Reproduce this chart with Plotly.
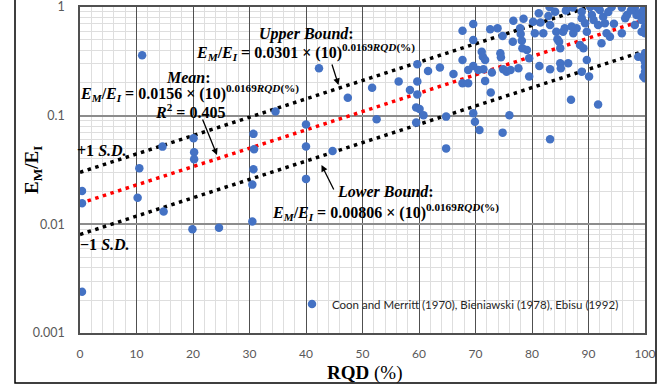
import plotly.graph_objects as go

# ---------------- data ----------------
rqd = [0.35, 0.35, 0.35, 10.5, 10.2, 11.0, 14.6, 14.8, 20.1, 20.2, 20.2, 19.9, 24.6,
       30.7, 30.8, 30.7, 30.5, 30.5, 34.6, 40.0, 40.0, 40.0, 42.3, 44.7, 47.4,
       51.7, 52.5, 56.4, 58.4, 59.7, 59.7, 59.7, 59.5, 60.1, 60.8, 59.5,
       61.6, 63.7, 64.8, 64.8, 66.1, 67.7, 67.7, 67.7, 68.7, 68.7,
       69.6, 69.6, 69.6, 69.6, 69.9, 70.7, 70.5, 71.1, 71.3, 71.7, 71.4, 71.7,
       72.6, 73.9, 72.7, 72.9, 74.4, 74.5, 74.9, 74.8, 75.5, 74.8, 76.0,
       76.7, 76.6, 77.9, 78.0, 78.2, 78.3, 79.1, 79.5, 79.5, 77.6, 76.2,
       80.2, 81.2, 80.5, 82.0, 83.1, 82.9, 84.1, 83.2, 84.3, 84.5, 84.8, 85.0,
       81.3, 83.2, 85.0, 85.1, 86.4, 86.9, 83.2,
       85.5, 85.8, 87.2, 87.3, 87.9, 88.8, 88.8, 88.5, 89.1, 88.8, 89.7, 90.1,
       89.4, 89.7, 90.3, 90.6, 90.9, 91.5, 91.7, 92.0, 92.6, 92.9, 92.3, 91.7,
       93.2, 93.8, 94.1, 95.9, 95.9, 96.5, 96.8, 98.2, 98.2, 98.5, 99.1, 99.4, 99.7,
       100, 100, 100, 99.4, 100, 100, 99.7, 100, 100, 100, 99.7, 100, 98.8,
       78.5, 86.0, 93.5, 97.5, 81.5, 87.0, 94.5]
em_ei = [0.0203, 0.0156, 0.0024, 0.0328, 0.0176, 0.36, 0.0519, 0.0131, 0.062, 0.046, 0.0397, 0.009, 0.0093,
         0.068, 0.049, 0.0321, 0.0232, 0.0106, 0.109, 0.083, 0.052, 0.0262, 0.273, 0.0473, 0.146,
         0.181, 0.0927, 0.206, 0.172, 0.297, 0.206, 0.157, 0.119, 0.115, 0.101, 0.0863,
         0.258, 0.277, 0.098, 0.05, 0.242, 0.605, 0.325, 0.199, 0.199, 0.263,
         0.698, 0.497, 0.286, 0.105, 0.088, 0.0739, 0.263, 0.388, 0.349, 0.325, 0.267, 0.209,
         0.624, 0.637, 0.163, 0.249, 0.375, 0.344, 0.267, 0.0698, 0.254, 0.541, 0.101,
         0.748, 0.48, 0.637, 0.565, 0.49, 0.417, 0.402, 0.337, 0.229, 0.273, 0.263,
         0.733, 0.875, 0.573, 0.573, 1.0, 0.826, 0.905, 0.683, 0.593, 0.505, 0.48, 0.417,
         0.286, 0.267, 0.303, 0.273, 0.303, 0.14, 0.0607,
         0.593, 0.637, 0.99, 0.573, 0.637, 0.787, 0.905, 0.447, 0.417, 0.254, 0.325, 0.229,
         0.708, 0.593, 1.0, 0.844, 0.76, 1.0, 0.683, 0.938, 0.814, 0.708, 0.464, 0.127,
         0.573, 0.533, 1.0, 0.99, 0.573, 0.787, 0.844, 0.99, 0.683, 0.844, 0.875, 0.76, 0.938,
         1.0, 0.844, 0.659, 0.593, 0.573, 0.375, 0.337, 0.314, 0.282, 0.254, 0.229, 0.221, 0.349,
         0.78, 0.93, 0.9, 0.93, 0.72, 0.66, 0.7]

# trend-line coefficients (as printed on the chart): E_M/E_I = a * 10^(b*RQD)
b_exp = 0.0169
a_mean = 0.0156
a_upper = 0.0301
a_lower = 0.00806
line_x = [0, 100]

x_ticks = [0, 10, 20, 30, 40, 50, 60, 70, 80, 90, 100]
y_ticks = [0.001, 0.01, 0.1, 1]
y_ticklabels = ["0.001", "0.01", "0.1", "1"]

legend_label = "Coon and Merritt (1970), Bieniawski (1978), Ebisu (1992)"

# ---------------- figure ----------------
W, H = 664, 387
ML, MR, MT, MB = 80, 19, 7, 54
PW, PH = W - ML - MR, H - MT - MB


def px(xp):
    return (xp - ML) / PW


def py(yp):
    return (H - MB - yp) / PH


def trend(a):
    return [a * 10 ** (b_exp * v) for v in line_x]


fig = go.Figure()

dot = "3.5px,4.5px"
fig.add_trace(go.Scatter(x=line_x, y=trend(a_upper), mode="lines", showlegend=False,
                         line=dict(color="black", width=3.5, dash=dot), hoverinfo="skip"))
fig.add_trace(go.Scatter(x=line_x, y=trend(a_lower), mode="lines", showlegend=False,
                         line=dict(color="black", width=3.5, dash=dot), hoverinfo="skip"))
fig.add_trace(go.Scatter(x=line_x, y=trend(a_mean), mode="lines", showlegend=False,
                         line=dict(color="#FF0000", width=3.5, dash=dot), hoverinfo="skip"))
fig.add_trace(go.Scatter(x=rqd, y=em_ei, mode="markers", name=legend_label,
                         marker=dict(color="#4472C4", size=8.5, line=dict(width=0))))

serif = "Liberation Serif"
eq_font = dict(family=serif, size=16, color="black")
EQ = "<b><i>E<sub>M</sub></i>/<i>E<sub>I</sub></i> = {} × (10)<sup>0.0169<i>RQD</i>(%)</sup></b>"

texts = [
    ("<b><i>Upper Bound</i>:</b>", 306, 34),
    (EQ.format("0.0301"), 305, 52),
    ("<b><i>Mean</i>:</b>", 188, 77),
    (EQ.format("0.0156"), 189, 93),
    ("<b><i>R</i><sup>2</sup> = 0.405</b>", 190, 111),
    ("<b>+1 <i>S.D.</i></b>", 102, 150),
    ("<b>−1 <i>S.D.</i></b>", 105, 244),
    ("<b><i>Lower Bound</i>:</b>", 385, 191),
    (EQ.format("0.00806"), 385, 212),
]
for t, xx, yy in texts:
    fig.add_annotation(text=t, x=px(xx), y=py(yy), xref="paper", yref="paper",
                       showarrow=False, font=eq_font, xanchor="center", yanchor="middle")

# arrows (head position in pixels, tail offset)
arrows = [((338.5, 85), -7, -22), ((217, 155), -15, -37), ((321.5, 165), 13, 26)]
for (hx, hy), ax, ay in arrows:
    fig.add_annotation(text="", x=px(hx), y=py(hy), xref="paper", yref="paper",
                       showarrow=True, ax=ax, ay=ay, arrowhead=2, arrowsize=1,
                       arrowwidth=1.3, arrowcolor="black")

# axis titles
fig.add_annotation(text="<b>E<sub>M</sub>/E<sub>I</sub></b>", x=px(33), y=py(170),
                   xref="paper", yref="paper", showarrow=False, textangle=-90,
                   font=dict(family=serif, size=19, color="black"),
                   xanchor="center", yanchor="middle")
fig.add_annotation(text="<b>RQD</b> (%)", x=px(364), y=py(373),
                   xref="paper", yref="paper", showarrow=False,
                   font=dict(family=serif, size=19, color="black"),
                   xanchor="center", yanchor="middle")

# outer frame
fig.add_shape(type="rect", xref="paper", yref="paper",
              x0=px(15), x1=px(656), y0=py(383), y1=py(-3),
              line=dict(color="black", width=1.5), layer="above")

fig.update_layout(
    width=W, height=H, margin=dict(l=ML, r=MR, t=MT, b=MB, autoexpand=False),
    paper_bgcolor="white", plot_bgcolor="white",
    showlegend=True,
    legend=dict(x=px(292), y=py(304), xanchor="left", yanchor="middle",
                bgcolor="rgba(0,0,0,0)", font=dict(family="Lato", size=11.5, color="#262626"),
                itemwidth=30),
    xaxis=dict(range=[0, 100], tickvals=x_ticks, showgrid=True, gridcolor="#505050", gridwidth=1,
               minor=dict(dtick=2, showgrid=True, gridcolor="#dedede", gridwidth=1),
               showline=True, linecolor="#505050", linewidth=1.5, mirror=True,
               zeroline=False, ticks="", ticklabelstandoff=9, automargin=False,
               ticklabeloverflow="allow",
               tickfont=dict(family="Lato", size=12, color="#595959")),
    yaxis=dict(type="log", range=[-3, 0], tickvals=y_ticks, ticktext=y_ticklabels,
               showgrid=True, gridcolor="#8c8c8c", gridwidth=1.5,
               minor=dict(dtick="D1", showgrid=True, gridcolor="#dedede", gridwidth=1),
               showline=True, linecolor="#505050", linewidth=1.5, mirror=True,
               zeroline=False, ticks="", ticklabelstandoff=11, automargin=False,
               ticklabeloverflow="allow",
               tickfont=dict(family="Lato", size=12.5, color="#595959")),
)

fig.write_html("out.html")
